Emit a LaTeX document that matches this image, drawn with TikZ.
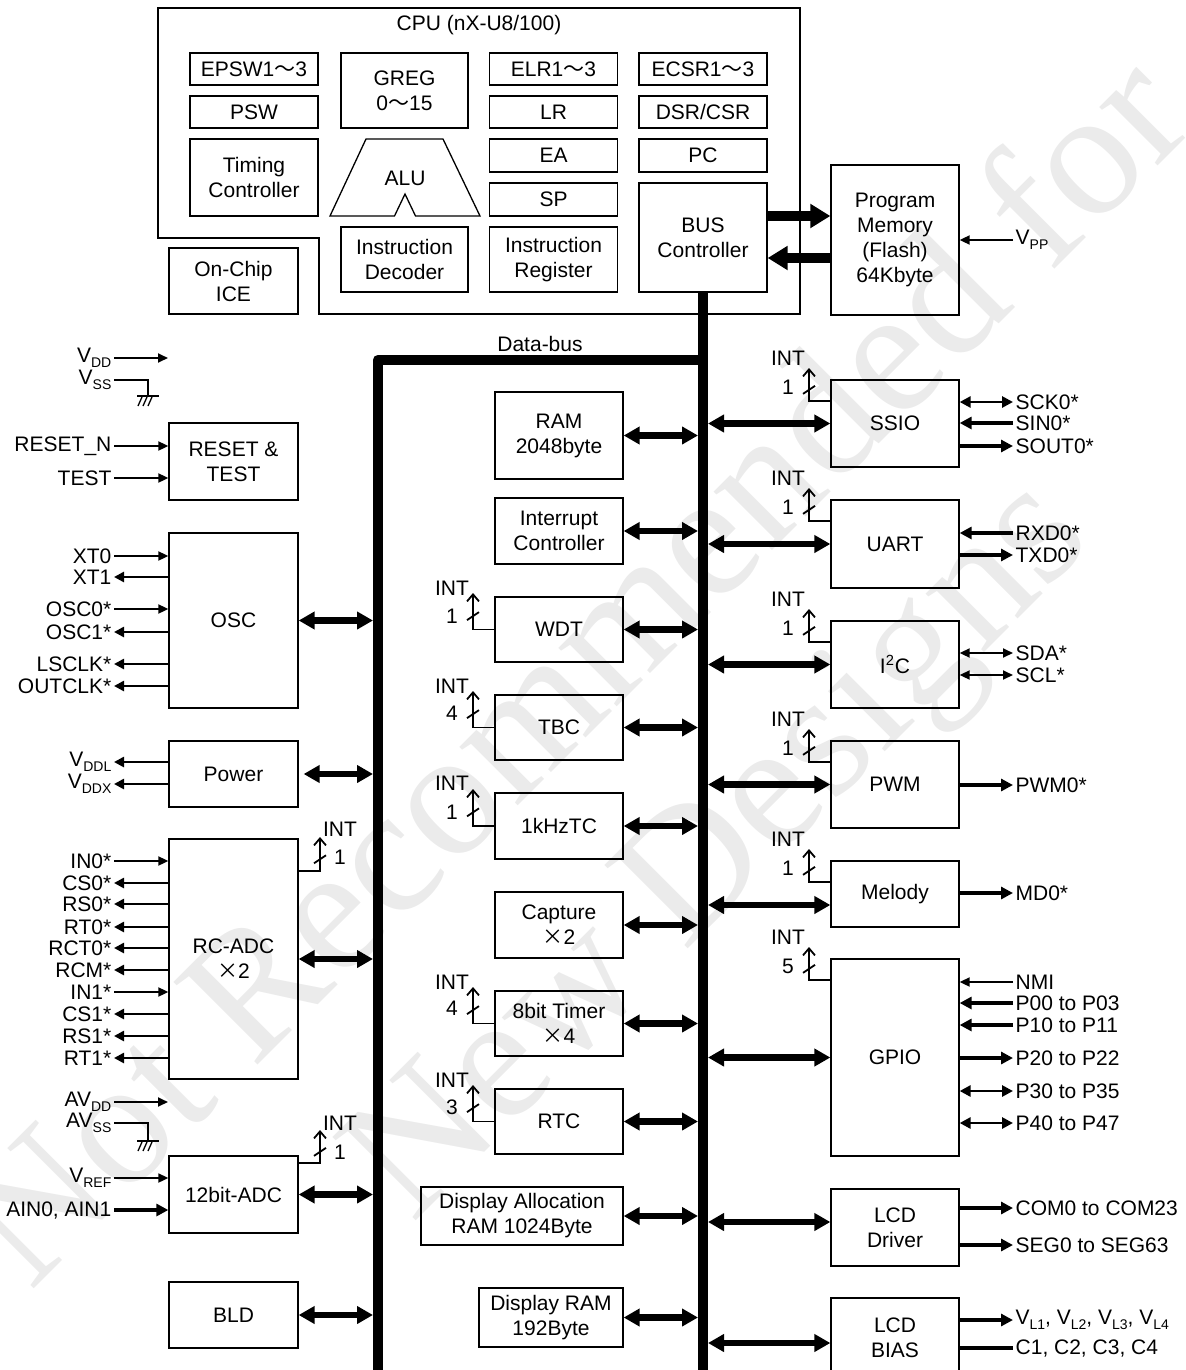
\documentclass[tikz,border=0pt]{standalone}
\usepackage{fontspec}
\setmainfont{Liberation Sans}
\newfontfamily\cjk{Noto Sans CJK SC}
\newfontfamily\wmfont{Liberation Serif}
\usetikzlibrary{arrows.meta}
\usetikzlibrary{decorations.markings}
\newcommand{\fsz}{\fontsize{10.5}{12.5}\selectfont}
\newcommand{\lowsub}[1]{\raisebox{-0.45ex}{\fontsize{7}{8}\selectfont #1}}
\tikzset{
  blk/.style={draw,line width=0.65pt,inner sep=0pt,align=center,minimum width=64pt},
  llbl/.style={anchor=east,inner sep=1pt},
  rlbl/.style={anchor=west,inner sep=1pt},
  sigl/.style={line width=0.9pt,-{Triangle[length=5pt,width=4.5pt]}},
  sigm/.style={line width=1.4pt,-{Triangle[length=5pt,width=5pt]}},
  sigk/.style={line width=2.2pt,-{Triangle[length=6pt,width=6pt]}},
  siglb/.style={line width=0.9pt,{Triangle[length=5pt,width=4.5pt]}-{Triangle[length=5pt,width=4.5pt]}},
  sigmb/.style={line width=1.4pt,{Triangle[length=5.5pt,width=5.5pt]}-{Triangle[length=5.5pt,width=5.5pt]}},
  busarr/.style={line width=3.2pt,{Triangle[length=8pt,width=8.5pt]}-{Triangle[length=8pt,width=8.5pt]}},
  cpuarr/.style={line width=5pt,-{Triangle[length=10pt,width=11.5pt]}},
  databus/.style={line width=5.2pt,line join=round},
  intsig/.style={line width=0.9pt,-{Straight Barb[length=3.5pt,width=6pt]},
    postaction={decorate,decoration={markings,mark=at position 0.6 with {\draw[-,line width=0.9pt] (-2pt,3pt) -- (2pt,-3pt);}}}},
  wmark/.style={text=black!8,font={\wmfont\fontsize{90}{90}\selectfont},rotate=45}
}
\begin{document}
\begin{tikzpicture}[x=0.5pt,y=-0.5pt,line width=0.65pt,font=\fsz]
\useasboundingbox (0,0) rectangle (1186,1370);
\node[wmark] (wm1) at (570,665) {Not Recommended for};
\node[wmark] (wm2) at (725,855) {New Designs};

% CPU core
\draw[line width=0.75pt] (158,8) -| (800,314) -| (319,238) -- (158,238) -- cycle;
\node (cpulbl) at (479,25) {CPU (nX-U8/100)};
\node[blk,minimum height=16pt] (epsw) at (254,69) {EPSW1{\cjk ～}3};
\node[blk,minimum height=16pt] (psw) at (254,112) {PSW};
\node[blk,minimum height=38.5pt] (timing) at (254,177.5) {Timing\\Controller};
\node[blk,minimum width=63.5pt,minimum height=37.5pt] (greg) at (404.5,90.5) {GREG\\0{\cjk ～}15};
\draw (330,216) -- (366,139) -- (443,139) -- (480,216) -- (415.5,216) -- (405,194) -- (394.5,216) -- cycle;
\node (alu) at (405,178) {ALU};
\node[blk,minimum width=63.5pt,minimum height=32.5pt] (idec) at (404.5,259.5) {Instruction\\Decoder};
\node[blk,minimum height=16pt] (elr) at (553.5,69) {ELR1{\cjk ～}3};
\node[blk,minimum height=16pt] (lr) at (553.5,112) {LR};
\node[blk,minimum height=16.5pt] (ea) at (553.5,155.5) {EA};
\node[blk,minimum height=16.5pt] (sp) at (553.5,199.5) {SP};
\node[blk,minimum height=32.5pt] (ireg) at (553.5,259.5) {Instruction\\Register};
\node[blk,minimum height=16pt] (ecsr) at (703,69) {ECSR1{\cjk ～}3};
\node[blk,minimum height=16pt] (dsr) at (703,112) {DSR/CSR};
\node[blk,minimum height=16.5pt] (pc) at (703,155.5) {PC};
\node[blk,minimum height=54.5pt] (busctl) at (703,237.5) {BUS\\Controller};
\node[blk,minimum width=64.5pt,minimum height=33pt] (ice) at (233.5,281) {On-Chip\\ICE};

% program memory
\node[blk,minimum height=75pt] (prog) at (895,240) {Program\\Memory\\(Flash)\\64Kbyte};
\node[rlbl] (vpp) at (1013,240) {V\lowsub{PP}};
\draw[sigl] (vpp.west) -- (prog.east);
\coordinate (wrbus) at ([yshift=10.75pt]busctl.east);
\coordinate (rdbus) at ([yshift=-10.25pt]busctl.east);
\draw[cpuarr] (wrbus) -- (wrbus -| prog.west);
\draw[cpuarr] (rdbus -| prog.west) -- (rdbus);

% data bus
\coordinate (busL) at (378,1380);
\coordinate (busR) at (703,1380);
\coordinate (bustop) at (703,360);
\draw[databus] (busctl.south) -- (busctl.south |- busR);
\draw[databus] (busL) |- (bustop);
\node (dbus) at (540,344) {Data-bus};

% left column
\node[llbl] (vdd) at (114,358) {V\lowsub{DD}};
\coordinate (vddend) at (168,358);
\draw[sigl] (vdd.east) -- (vddend);
\node[llbl] (vss) at (114,380) {V\lowsub{SS}};
\coordinate (gnd) at (148,396);
\draw (vss.east) -| (gnd);
\draw[line width=0.8pt] ([shift={(-11,0)}]gnd) -- ([shift={(11,0)}]gnd);
\draw ([shift={(-10,10)}]gnd) -- ([shift={(-6,1)}]gnd);
\draw ([shift={(-5,10)}]gnd) -- ([shift={(-1,1)}]gnd);
\draw ([shift={(0,10)}]gnd) -- ([shift={(4,1)}]gnd);

\node[blk,minimum width=64.5pt,minimum height=38.5pt] (rst) at (233.5,461.5) {RESET \&\\TEST};
\node[llbl] (resetn) at (114,446) {RESET\_N};
\node[llbl] (test) at (114,478) {TEST};
\draw[sigl] (resetn.east) -- (resetn -| rst.west);
\draw[sigl] (test.east) -- (test -| rst.west);

\node[blk,minimum width=64.5pt,minimum height=87.5pt] (osc) at (233.5,620.5) {OSC};
\node[llbl] (xt0) at (114,556) {XT0};
\node[llbl] (xt1) at (114,577) {XT1};
\node[llbl] (osc0) at (114,609) {OSC0*};
\node[llbl] (osc1) at (114,632) {OSC1*};
\node[llbl] (lsclk) at (114,664) {LSCLK*};
\node[llbl] (outclk) at (114,686) {OUTCLK*};
\draw[sigl] (xt0.east) -- (xt0 -| osc.west);
\draw[sigm] (osc.west |- xt1) -- (xt1.east);
\draw[sigl] (osc0.east) -- (osc0 -| osc.west);
\draw[sigm] (osc.west |- osc1) -- (osc1.east);
\draw[sigm] (osc.west |- lsclk) -- (lsclk.east);
\draw[sigm] (osc.west |- outclk) -- (outclk.east);
\draw[busarr,shorten >=2.5pt] (osc.east) -- (osc.east -| busL);

\node[blk,minimum width=64.5pt,minimum height=33pt] (power) at (233.5,774) {Power};
\node[llbl] (vddl) at (114,762) {V\lowsub{DDL}};
\node[llbl] (vddx) at (114,784) {V\lowsub{DDX}};
\draw[sigm] (power.west |- vddl) -- (vddl.east);
\draw[sigm] (power.west |- vddx) -- (vddx.east);
\draw[busarr,shorten >=2.5pt,shorten <=2.5pt] (power.east) -- (power.east -| busL);

\node[blk,minimum width=64.5pt,minimum height=120pt] (rcadc) at (233.5,959) {RC-ADC\\{\cjk ×}2};
\node[llbl] (in0) at (114,861) {IN0*};
\node[llbl] (cs0) at (114,883) {CS0*};
\node[llbl] (rs0) at (114,904) {RS0*};
\node[llbl] (rt0) at (114,927) {RT0*};
\node[llbl] (rct0) at (114,948) {RCT0*};
\node[llbl] (rcm) at (114,970) {RCM*};
\node[llbl] (in1) at (114,992) {IN1*};
\node[llbl] (cs1) at (114,1014) {CS1*};
\node[llbl] (rs1) at (114,1036) {RS1*};
\node[llbl] (rt1) at (114,1058) {RT1*};
\draw[sigl] (in0.east) -- (in0 -| rcadc.west);
\draw[sigm] (rcadc.west |- cs0) -- (cs0.east);
\draw[sigm] (rcadc.west |- rs0) -- (rs0.east);
\draw[sigm] (rcadc.west |- rt0) -- (rt0.east);
\draw[sigm] (rcadc.west |- rct0) -- (rct0.east);
\draw[sigm] (rcadc.west |- rcm) -- (rcm.east);
\draw[sigl] (in1.east) -- (in1 -| rcadc.west);
\draw[sigm] (rcadc.west |- cs1) -- (cs1.east);
\draw[sigm] (rcadc.west |- rs1) -- (rs1.east);
\draw[sigm] (rcadc.west |- rt1) -- (rt1.east);
\draw[busarr,shorten >=2.5pt] (rcadc.east) -- (rcadc.east -| busL);
\coordinate (ircadc) at (320,837);
\draw[intsig] ([yshift=-16.5pt]rcadc.north east) -| (ircadc);
\node (ircadct) at (340,829) {INT};
\node (ircadcn) at (340,857) {1};

\node[llbl] (avdd) at (114,1102) {AV\lowsub{DD}};
\coordinate (avddend) at (168,1102);
\draw[sigl] (avdd.east) -- (avddend);
\node[llbl] (avss) at (114,1123) {AV\lowsub{SS}};
\coordinate (agnd) at (148,1141);
\draw (avss.east) -| (agnd);
\draw[line width=0.8pt] ([shift={(-11,0)}]agnd) -- ([shift={(11,0)}]agnd);
\draw ([shift={(-10,10)}]agnd) -- ([shift={(-6,1)}]agnd);
\draw ([shift={(-5,10)}]agnd) -- ([shift={(-1,1)}]agnd);
\draw ([shift={(0,10)}]agnd) -- ([shift={(4,1)}]agnd);

\node[blk,minimum width=64.5pt,minimum height=38.5pt] (adc) at (233.5,1194.5) {12bit-ADC};
\node[llbl] (vref) at (114,1178) {V\lowsub{REF}};
\node[llbl] (ain) at (114,1210) {AIN0, AIN1};
\draw[sigl] (vref.east) -- (vref -| adc.west);
\draw[sigk] (ain.east) -- (ain -| adc.west);
\draw[busarr,shorten >=2.5pt] (adc.east) -- (adc.east -| busL);
\coordinate (iadc) at (320,1130);
\draw[intsig] ([yshift=-4pt]adc.north east) -| (iadc);
\node (iadct) at (340,1123) {INT};
\node (iadcn) at (340,1152) {1};

\node[blk,minimum width=64.5pt,minimum height=33pt] (bld) at (233.5,1315) {BLD};
\draw[busarr,shorten >=2.5pt] (bld.east) -- (bld.east -| busL);

% middle column
\node[blk,minimum height=43.5pt] (ram) at (559,435.5) {RAM\\2048byte};
\draw[busarr,shorten >=2.5pt] (ram.east) -- (ram.east -| busR);
\node[blk,minimum height=33pt] (intc) at (559,531) {Interrupt\\Controller};
\draw[busarr,shorten >=2.5pt] (intc.east) -- (intc.east -| busR);

\node[blk,minimum height=32.5pt] (wdt) at (559,629.5) {WDT};
\draw[busarr,shorten >=2.5pt] (wdt.east) -- (wdt.east -| busR);
\coordinate (iwdt) at (473,593);
\draw[intsig] (wdt.west) -| (iwdt);
\node (iwdtt) at (452,588) {INT};
\node (iwdtn) at (452,616) {1};

\node[blk,minimum height=32.5pt] (tbc) at (559,727.5) {TBC};
\draw[busarr,shorten >=2.5pt] (tbc.east) -- (tbc.east -| busR);
\coordinate (itbc) at (473,691);
\draw[intsig] (tbc.west) -| (itbc);
\node (itbct) at (452,686) {INT};
\node (itbcn) at (452,713) {4};

\node[blk,minimum height=33pt] (khz) at (559,826) {1kHzTC};
\draw[busarr,shorten >=2.5pt] (khz.east) -- (khz.east -| busR);
\coordinate (ikhz) at (473,789);
\draw[intsig] (khz.west) -| (ikhz);
\node (ikhzt) at (452,783) {INT};
\node (ikhzn) at (452,812) {1};

\node[blk,minimum height=33pt] (capt) at (559,925) {Capture\\{\cjk ×}2};
\draw[busarr,shorten >=2.5pt] (capt.east) -- (capt.east -| busR);

\node[blk,minimum height=32.5pt] (tmr) at (559,1023.5) {8bit Timer\\{\cjk ×}4};
\draw[busarr,shorten >=2.5pt] (tmr.east) -- (tmr.east -| busR);
\coordinate (itmr) at (473,987);
\draw[intsig] (tmr.west) -| (itmr);
\node (itmrt) at (452,982) {INT};
\node (itmrn) at (452,1008) {4};

\node[blk,minimum height=32.5pt] (rtc) at (559,1121.5) {RTC};
\draw[busarr,shorten >=2.5pt] (rtc.east) -- (rtc.east -| busR);
\coordinate (irtc) at (473,1085);
\draw[intsig] (rtc.west) -| (irtc);
\node (irtct) at (452,1080) {INT};
\node (irtcn) at (452,1107) {3};

\node[blk,minimum width=101pt,minimum height=29pt] (dalloc) at (522,1216) {Display Allocation\\RAM 1024Byte};
\draw[busarr,shorten >=2.5pt] (dalloc.east) -- (dalloc.east -| busR);
\node[blk,minimum width=72pt,minimum height=29.5pt] (dram) at (551,1317.5) {Display RAM\\192Byte};
\draw[busarr,shorten >=2.5pt] (dram.east) -- (dram.east -| busR);

% right column
\node[blk,minimum height=43.5pt] (ssio) at (895,423.5) {SSIO};
\draw[busarr,shorten <=2.5pt] (ssio.west -| busR) -- (ssio.west);
\coordinate (issio) at (809,368);
\draw[intsig] ([yshift=-11pt]ssio.north west) -| (issio);
\node (issiot) at (788,358) {INT};
\node (ission) at (788,387) {1};
\node[rlbl] (sck) at (1013,402) {SCK0*};
\node[rlbl] (sin) at (1013,423) {SIN0*};
\node[rlbl] (sout) at (1013,446) {SOUT0*};
\draw[sigmb] (ssio.east |- sck) -- (sck.west);
\draw[sigk] (sin.west) -- (sin -| ssio.east);
\draw[sigk] (ssio.east |- sout) -- (sout.west);

\node[blk,minimum height=44pt] (uart) at (895,544) {UART};
\draw[busarr,shorten <=2.5pt] (uart.west -| busR) -- (uart.west);
\coordinate (iuart) at (809,488);
\draw[intsig] ([yshift=-11pt]uart.north west) -| (iuart);
\node (iuartt) at (788,478) {INT};
\node (iuartn) at (788,507) {1};
\node[rlbl] (rxd) at (1013,533) {RXD0*};
\node[rlbl] (txd) at (1013,555) {TXD0*};
\draw[sigk] (rxd.west) -- (rxd -| uart.east);
\draw[sigk] (uart.east |- txd) -- (txd.west);

\node[blk,minimum height=43.5pt] (iic) at (895,664.5) {I\textsuperscript{2}C};
\draw[busarr,shorten <=2.5pt] (iic.west -| busR) -- (iic.west);
\coordinate (iiic) at (809,609);
\draw[intsig] ([yshift=-11pt]iic.north west) -| (iiic);
\node (iiict) at (788,599) {INT};
\node (iiicn) at (788,628) {1};
\node[rlbl] (sda) at (1013,653) {SDA*};
\node[rlbl] (scl) at (1013,675) {SCL*};
\draw[siglb] (iic.east |- sda) -- (sda.west);
\draw[siglb] (iic.east |- scl) -- (scl.west);

\node[blk,minimum height=43.5pt] (pwm) at (895,784.5) {PWM};
\draw[busarr,shorten <=2.5pt] (pwm.west -| busR) -- (pwm.west);
\coordinate (ipwm) at (809,729);
\draw[intsig] ([yshift=-11pt]pwm.north west) -| (ipwm);
\node (ipwmt) at (788,719) {INT};
\node (ipwmn) at (788,748) {1};
\node[rlbl] (pwmo) at (1013,785) {PWM0*};
\draw[sigk] (pwm.east |- pwmo) -- (pwmo.west);

\node[blk,minimum height=33pt] (mel) at (895,894) {Melody};
\coordinate (melbus) at ([yshift=-5.5pt]mel.west);
\draw[busarr,shorten <=2.5pt] (melbus -| busR) -- (melbus);
\coordinate (imel) at (809,849);
\draw[intsig] ([yshift=-11pt]mel.north west) -| (imel);
\node (imelt) at (788,839) {INT};
\node (imeln) at (788,868) {1};
\node[rlbl] (md) at (1013,893) {MD0*};
\draw[sigk] (mel.east |- md) -- (md.west);

\node[blk,minimum height=98.5pt] (gpio) at (895,1057.5) {GPIO};
\draw[busarr,shorten <=2.5pt] (gpio.west -| busR) -- (gpio.west);
\coordinate (igpio) at (809,947);
\draw[intsig] ([yshift=-11pt]gpio.north west) -| (igpio);
\node (igpiot) at (788,937) {INT};
\node (igpion) at (788,966) {5};
\node[rlbl] (nmi) at (1013,982) {NMI};
\node[rlbl] (p0) at (1013,1003) {P00 to P03};
\node[rlbl] (p1) at (1013,1025) {P10 to P11};
\node[rlbl] (p2) at (1013,1058) {P20 to P22};
\node[rlbl] (p3) at (1013,1091) {P30 to P35};
\node[rlbl] (p4) at (1013,1123) {P40 to P47};
\draw[sigl] (nmi.west) -- (nmi -| gpio.east);
\draw[sigk] (p0.west) -- (p0 -| gpio.east);
\draw[sigk] (p1.west) -- (p1 -| gpio.east);
\draw[sigk] (gpio.east |- p2) -- (p2.west);
\draw[sigmb] (gpio.east |- p3) -- (p3.west);
\draw[sigmb] (gpio.east |- p4) -- (p4.west);

\node[blk,minimum height=38.5pt] (lcdd) at (895,1227.5) {LCD\\Driver};
\coordinate (lcddbus) at ([yshift=2.75pt]lcdd.west);
\draw[busarr,shorten <=2.5pt] (lcddbus -| busR) -- (lcddbus);
\node[rlbl] (com) at (1013,1208) {COM0 to COM23};
\node[rlbl] (seg) at (1013,1245) {SEG0 to SEG63};
\draw[sigk] (lcdd.east |- com) -- (com.west);
\draw[sigk] (lcdd.east |- seg) -- (seg.west);

\node[blk,minimum height=40pt] (lcdb) at (895,1338) {LCD\\BIAS};
\coordinate (lcdbbus) at ([yshift=-2.5pt]lcdb.west);
\draw[busarr,shorten <=2.5pt] (lcdbbus -| busR) -- (lcdbbus);
\node[rlbl] (vl) at (1013,1320) {V\lowsub{L1}, V\lowsub{L2}, V\lowsub{L3}, V\lowsub{L4}};
\node[rlbl] (cap) at (1013,1348) {C1, C2, C3, C4};
\draw[sigk] (lcdb.east |- vl) -- (vl.west);
\draw[line width=2.2pt] (lcdb.east |- cap) -- (cap.west);
\end{tikzpicture}
\end{document}
